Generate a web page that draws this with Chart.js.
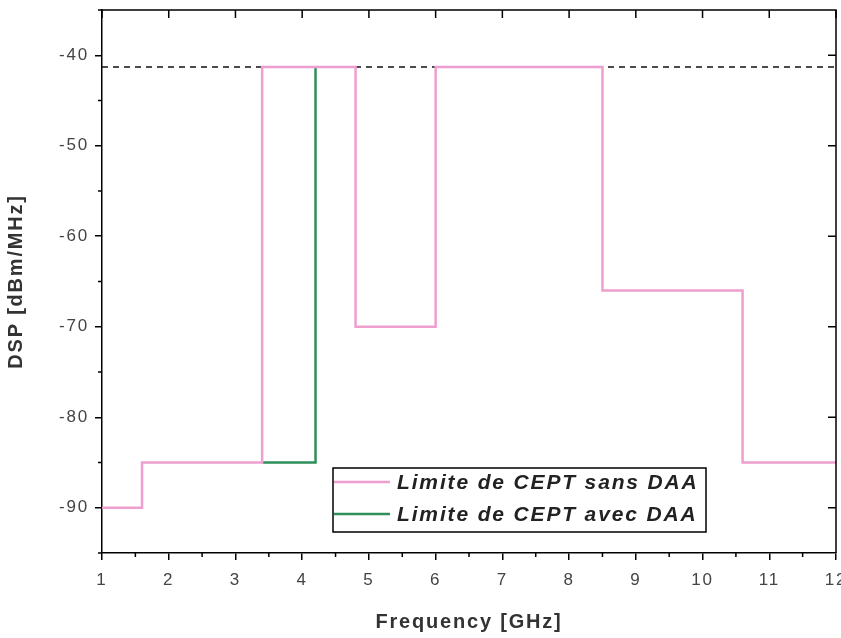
<!DOCTYPE html>
<html>
<head>
<meta charset="utf-8">
<script src="https://cdn.jsdelivr.net/npm/chart.js@4/dist/chart.umd.min.js"></script>
<style>
html,body{margin:0;padding:0;background:#fff;}
#wrap{width:841px;height:638px;position:relative;}
</style>
</head>
<body>
<div id="wrap"><canvas id="c" width="841" height="638"></canvas></div>
<script>
// Step series: each point starts a segment at that frequency (GHz) with that level (dBm/MHz)
const sansFreq = [1, 1.6, 3.4, 4.8, 6.0, 8.5, 10.6, 12];
const sansDsp  = [-90, -85, -41.3, -70, -41.3, -66, -85, -85];
const avecFreq = [3.4, 4.2];
const avecDsp  = [-85, -41.3];
const limitFreq = [1, 12];
const limitDsp  = [-41.3, -41.3];
const seriesLabels = ['Limite de CEPT sans DAA', 'Limite de CEPT avec DAA'];
const xTicks = [1,2,3,4,5,6,7,8,9,10,11,12];
const yTicks = [-90,-80,-70,-60,-50,-40];

const pts = (xs, ys) => xs.map((x, i) => ({x: x, y: ys[i]}));

const PINK = '#ef9fcf';
const GREEN = '#2f8f5a';
const FONT = '"Liberation Sans", Arial, sans-serif';

const spacingPlugin = {
  id: 'spacing',
  beforeDraw(chart) { if (chart.ctx.letterSpacing !== undefined) chart.ctx.letterSpacing = '1.8px'; }
};

const framePlugin = {
  id: 'frame',
  afterDatasetsDraw(chart) {
    const {ctx, chartArea: a, scales: {x, y}} = chart;
    ctx.save();
    ctx.strokeStyle = '#000';
    ctx.lineWidth = 1.5;
    ctx.beginPath();
    ctx.moveTo(a.left, a.top); ctx.lineTo(a.right, a.top); ctx.lineTo(a.right, a.bottom);
    ctx.stroke();
    ctx.beginPath();
    xTicks.forEach(v => { const px = x.getPixelForValue(v); ctx.moveTo(px, a.top); ctx.lineTo(px, a.top + 8); });
    yTicks.forEach(v => { const py = y.getPixelForValue(v); ctx.moveTo(a.right, py); ctx.lineTo(a.right - 8, py); });
    for (let i = 0; i < xTicks.length - 1; i++) {
      const px = x.getPixelForValue((xTicks[i] + xTicks[i+1]) / 2);
      ctx.moveTo(px, a.bottom); ctx.lineTo(px, a.bottom + 4);
    }
    [-95,-85,-75,-65,-55,-45,-35].forEach(v => {
      const py = y.getPixelForValue(v);
      if (py >= a.top - 1 && py <= a.bottom + 1) { ctx.moveTo(a.left, py); ctx.lineTo(a.left - 4, py); }
    });
    ctx.stroke();

    // legend box
    const lx = 333, ly = 468, lw = 373, lh = 64;
    ctx.fillStyle = '#fff';
    ctx.fillRect(lx, ly, lw, lh);
    ctx.lineWidth = 1.5;
    ctx.strokeRect(lx, ly, lw, lh);
    const rows = [{c: PINK, t: seriesLabels[0], yy: 482}, {c: GREEN, t: seriesLabels[1], yy: 514}];
    ctx.font = 'italic bold 21px ' + FONT;
    ctx.textBaseline = 'middle';
    ctx.textAlign = 'left';
    if (ctx.letterSpacing !== undefined) ctx.letterSpacing = '1.85px';
    rows.forEach(r => {
      ctx.strokeStyle = r.c; ctx.lineWidth = 2.5;
      ctx.beginPath(); ctx.moveTo(lx + 1, r.yy); ctx.lineTo(lx + 57, r.yy); ctx.stroke();
      ctx.fillStyle = '#222';
      ctx.fillText(r.t, lx + 64, r.yy + 1);
    });
    ctx.restore();
  }
};

new Chart(document.getElementById('c'), {
  type: 'line',
  data: {
    datasets: [
      { label: seriesLabels[0], data: pts(sansFreq, sansDsp), borderColor: PINK, borderWidth: 2.5, stepped: 'before', pointRadius: 0, fill: false },
      { label: seriesLabels[1], data: pts(avecFreq, avecDsp), borderColor: GREEN, borderWidth: 2.5, stepped: 'before', pointRadius: 0, fill: false },
      { label: 'Limite', data: pts(limitFreq, limitDsp), borderColor: '#111', borderWidth: 1.5, borderDash: [6, 5], pointRadius: 0, fill: false }
    ]
  },
  options: {
    responsive: false,
    animation: false,
    layout: { padding: { left: 0, right: 5, top: 10, bottom: 0 } },
    plugins: { legend: { display: false }, tooltip: { enabled: false } },
    scales: {
      x: {
        type: 'linear', min: 1, max: 12,
        afterFit(s) { s.height = 85; s.paddingLeft = 0; s.paddingRight = 0; },
        afterBuildTicks(s) { s.ticks = xTicks.map(v => ({value: v})); },
        grid: { display: true, drawOnChartArea: false, drawTicks: true, tickLength: 7, color: '#000', lineWidth: 1.5 },
        border: { display: true, color: '#000', width: 1.5 },
        ticks: { color: '#444', font: { family: FONT, size: 17 }, padding: 10, maxRotation: 0 },
        title: { display: true, text: 'Frequency [GHz]', color: '#333', font: { family: FONT, size: 20, weight: 'bold' }, padding: { top: 8 } }
      },
      y: {
        type: 'linear', min: -95, max: -35,
        afterFit(s) { s.width = 102; s.paddingTop = 0; s.paddingBottom = 0; },
        afterBuildTicks(s) { s.ticks = yTicks.map(v => ({value: v})); },
        grid: { display: true, drawOnChartArea: false, drawTicks: true, tickLength: 7, color: '#000', lineWidth: 1.5 },
        border: { display: true, color: '#000', width: 1.5 },
        ticks: { color: '#444', font: { family: FONT, size: 17 }, padding: 6 },
        title: { display: true, text: 'DSP [dBm/MHz]', color: '#333', font: { family: FONT, size: 20, weight: 'bold' }, padding: { bottom: 6 } }
      }
    }
  },
  plugins: [spacingPlugin, framePlugin]
});
</script>
</body>
</html>
